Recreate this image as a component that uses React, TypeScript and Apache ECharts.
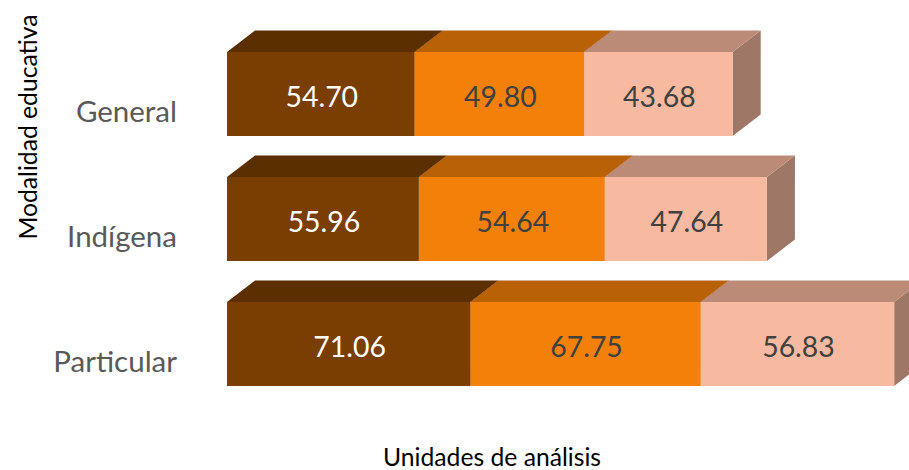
import React, { useEffect, useRef } from "react";
import * as echarts from "echarts";

const categories = ["General", "Indígena", "Particular"];
const unit1 = [54.7, 55.96, 71.06];
const unit2 = [49.8, 54.64, 67.75];
const unit3 = [43.68, 47.64, 56.83];
const seriesValues = [unit1, unit2, unit3];

const fronts = ["#7A3E02", "#F28009", "#F7B9A0"];
const tops = ["#5C2F01", "#B86107", "#BC8B78"];
const sides = ["#4E2801", "#9C5206", "#9E7766"];
const labelColors = ["#FFFFFF", "#404040", "#404040"];

const FONT = "Lato, sans-serif";
const DEPTH_X = 28;
const DEPTH_Y = 21.5;
const BAR_RATIO = 0.672;
const LEFT_BLEED = 1.5;

function buildSeries() {
  return seriesValues.map((values, s) => ({
    type: "custom",
    coordinateSystem: "cartesian2d",
    clip: false,
    silent: true,
    encode: { x: [1, 2], y: 0 },
    data: values.map((v, i) => {
      let start = 0;
      for (let k = 0; k < s; k++) start += seriesValues[k][i];
      return [i, start, start + v, v];
    }),
    renderItem: (_p: any, api: any) => {
      const cat = api.value(0);
      const a = api.coord([api.value(1), cat]);
      const b = api.coord([api.value(2), cat]);
      const h = api.size([0, 1])[1] * BAR_RATIO;
      const x0 = a[0] - (s === 0 ? LEFT_BLEED : 0);
      const x1 = b[0];
      const y0 = a[1] - h / 2;
      const y1 = a[1] + h / 2;
      return {
        type: "group",
        children: [
          {
            type: "polygon",
            shape: { points: [[x1, y0], [x1 + DEPTH_X, y0 - DEPTH_Y], [x1 + DEPTH_X, y1 - DEPTH_Y], [x1, y1]] },
            style: { fill: sides[s] },
          },
          {
            type: "polygon",
            shape: { points: [[x0, y0], [x0 + DEPTH_X, y0 - DEPTH_Y], [x1 + DEPTH_X, y0 - DEPTH_Y], [x1, y0]] },
            style: { fill: tops[s] },
          },
          {
            type: "rect",
            shape: { x: x0, y: y0, width: x1 - x0, height: y1 - y0 },
            style: { fill: fronts[s] },
          },
          {
            type: "text",
            style: {
              x: (x0 + x1) / 2 + 1,
              y: a[1] + 2,
              text: api.value(3).toFixed(2),
              fill: labelColors[s],
              fontSize: 28.4,
              fontFamily: FONT,
              align: "center",
              verticalAlign: "middle",
            },
          },
        ],
      };
    },
  }));
}

export default function App() {
  const ref = useRef<HTMLDivElement>(null);
  useEffect(() => {
    const chart = echarts.init(ref.current!, undefined, { renderer: "svg" });
    chart.setOption({
      animation: false,
      backgroundColor: "#FFFFFF",
      grid: { left: 228.5, top: 31.5, width: 683, height: 375, containLabel: false },
      xAxis: {
        type: "value",
        min: 0,
        max: 200,
        axisLine: { show: false },
        axisTick: { show: false },
        axisLabel: { show: false },
        splitLine: { show: false },
      },
      yAxis: {
        type: "category",
        inverse: true,
        data: categories,
        axisLine: { show: false },
        axisTick: { show: false },
        splitLine: { show: false },
        axisLabel: {
          margin: 51.5,
          color: "#595959",
          fontSize: 29.5,
          fontFamily: FONT,
          verticalAlign: "top",
          lineHeight: 32,
        },
      },
      graphic: [
        {
          type: "text",
          x: 492,
          y: 456,
          style: {
            text: "Unidades de análisis",
            fill: "#000000",
            fontSize: 24.7,
            fontFamily: FONT,
            align: "center",
            verticalAlign: "middle",
          },
        },
        {
          type: "text",
          x: 27,
          y: 127,
          rotation: Math.PI / 2,
          style: {
            text: "Modalidad educativa",
            fill: "#000000",
            fontSize: 24.7,
            fontFamily: FONT,
            align: "center",
            verticalAlign: "middle",
          },
        },
      ],
      series: buildSeries(),
    });
    return () => chart.dispose();
  }, []);
  return <div ref={ref} style={{ position: "fixed", left: 0, top: 0, width: 909, height: 470 }} />;
}
